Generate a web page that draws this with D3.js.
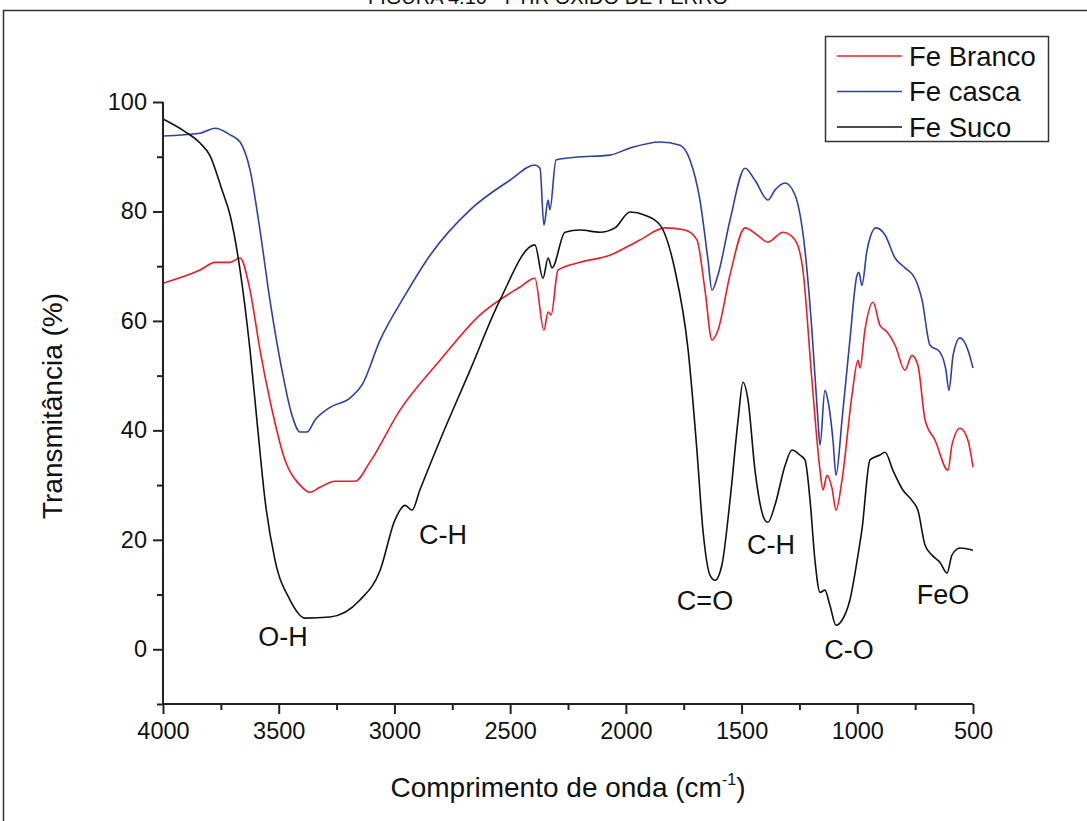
<!DOCTYPE html>
<html>
<head>
<meta charset="utf-8">
<script src="https://cdn.jsdelivr.net/npm/d3@7/dist/d3.min.js"></script>
<style>
  html, body { margin: 0; padding: 0; background: #fff; }
  svg { display: block; }
  text { font-family: "Liberation Sans", Arial, sans-serif; fill: #111; }
</style>
</head>
<body>
<svg id="chart" width="1087" height="821"></svg>
<script>
// ---------- data ----------
const seriesNames = ["Fe Branco", "Fe casca", "Fe Suco"];
const seriesColors = ["#ee1c25", "#2e40a6", "#111111"];

const brancoWn = [4000,3840,3775,3710,3667,3624,3581,3538,3473,3408,3365,3322,3257,3170,3106,2976,2803,2630,2457,2393,2354,2336,2323,2293,2198,2069,1939,1831,1745,1693,1658,1628,1602,1550,1485,1433,1386,1321,1269,1235,1196,1161,1148,1131,1109,1092,1066,1023,997,988,967,932,902,872,837,794,764,738,707,664,608,591,556,522,500];
const brancoT  = [66.9,69.3,70.7,70.7,71.5,65.6,54.7,45.5,34.6,30.0,28.7,29.6,30.7,30.7,34.2,43.7,52.8,61.1,66.2,67.8,58.3,61.6,61.1,69.3,70.7,72.0,74.8,77.0,76.6,74.8,65.6,56.5,58.3,68.4,77.0,75.7,74.4,76.2,74.8,69.3,49.2,32.7,29.1,31.8,29.4,25.4,30.9,46.4,52.8,51.4,58.3,63.4,59.2,58.0,55.6,51.0,53.7,51.9,41.9,38.2,32.7,37.3,40.4,38.2,33.3];

const cascaWn = [4000,3840,3775,3710,3667,3624,3581,3538,3486,3443,3408,3378,3343,3278,3192,3140,3062,2954,2846,2673,2501,2393,2371,2354,2336,2328,2302,2220,2069,1982,1852,1766,1723,1680,1645,1628,1602,1550,1485,1442,1386,1356,1312,1269,1226,1196,1170,1161,1140,1127,1105,1092,1066,1032,1001,993,980,958,919,880,837,794,751,720,686,643,617,604,586,556,522,500];
const cascaT  = [93.8,94.3,95.2,94.0,92.7,87.6,76.6,63.8,51.0,42.8,39.7,39.7,41.9,44.2,45.9,48.3,56.5,64.7,72.0,80.3,85.7,88.5,87.9,77.5,82.1,80.3,89.4,89.9,90.3,91.6,92.7,92.1,89.4,82.1,71.1,65.6,68.4,78.4,87.9,85.7,82.1,83.9,85.2,83.0,72.9,58.3,41.9,37.3,47.3,45.5,38.2,31.8,41.9,56.5,68.4,68.9,66.5,72.9,77.0,75.7,71.5,69.7,67.8,63.8,55.6,54.3,51.0,47.3,53.7,56.9,54.7,51.4];

const sucoWn = [4000,3905,3840,3797,3745,3710,3667,3624,3590,3559,3516,3451,3386,3278,3149,3062,2998,2954,2924,2890,2803,2673,2544,2393,2358,2336,2319,2263,2198,2112,2047,1982,1917,1852,1788,1731,1693,1667,1636,1615,1585,1550,1515,1494,1472,1442,1399,1386,1356,1312,1282,1248,1226,1204,1183,1161,1140,1118,1092,1066,1032,997,980,945,902,880,846,803,764,738,707,677,643,612,591,556,500];
const sucoT  = [96.9,94.6,92.5,90.2,83.9,79.3,69.3,54.7,40.0,27.2,16.3,9.0,5.7,5.9,9.0,14.4,23.6,26.3,25.4,29.1,38.2,51.0,63.8,73.9,67.8,71.5,69.7,76.2,76.6,76.2,77.0,79.9,79.3,77.5,69.3,54.7,36.4,21.8,13.5,12.6,15.4,27.2,41.9,48.8,45.5,32.7,23.6,23.2,26.3,33.6,36.4,35.5,34.6,27.2,16.3,10.4,10.8,8.0,4.4,5.3,9.0,17.2,21.8,34.6,35.5,36.0,32.7,29.1,27.2,25.4,19.0,17.2,15.9,13.9,17.2,18.5,18.1];

const xMajorTicks = [4000,3500,3000,2500,2000,1500,1000,500];
const xMinorTicks = [3750,3250,2750,2250,1750,1250,750];
const yMajorTicks = [0,20,40,60,80,100];
const yMinorTicks = [-10,10,30,50,70,90];

const annLabels = ["O-H","C-H","C=O","C-H","C-O","FeO"];
const annWn     = [3481,2790,1658,1373,1036,630];
const annT      = [2.2,20.8,8.8,19.0,-0.2,9.9];

const titleText = "FIGURA 4.10 - FTIR ÓXIDO DE FERRO";
const xTitle = "Comprimento de onda (cm";
const yTitle = "Transmitância (%)";

// ---------- layout ----------
const svg = d3.select("#chart");
const x = d3.scaleLinear().domain([4000, 500]).range([163, 973]);
const y = d3.scaleLinear().domain([-10, 100]).range([704, 102]);

// outer frame (cropped figure border)
svg.append("rect").attr("x", 3.5).attr("y", 10.5).attr("width", 1100).attr("height", 830)
  .attr("fill", "none").attr("stroke", "#333").attr("stroke-width", 1.5);

// cropped caption at very top (the reference shows only its lower edge)
svg.append("text").attr("x", 548).attr("y", 4).attr("text-anchor", "middle")
  .style("font-size", "20px").text(titleText);

// curves
const data = [
  brancoWn.map((w, i) => [w, brancoT[i]]),
  cascaWn.map((w, i) => [w, cascaT[i]]),
  sucoWn.map((w, i) => [w, sucoT[i]])
];
const line = d3.line().x(d => x(d[0])).y(d => y(d[1])).curve(d3.curveMonotoneX);
[0, 1, 2].forEach(i => {
  svg.append("path").datum(data[i]).attr("d", line)
    .attr("fill", "none").attr("stroke", seriesColors[i]).attr("stroke-width", 1.6)
    .attr("stroke-linejoin", "round");
});

// axes
const axisColor = "#222";
const xAxis = d3.axisBottom(x).tickValues(xMajorTicks).tickSize(10).tickPadding(8).tickFormat(d3.format("d"));
const gx = svg.append("g").attr("transform", `translate(0,${y(-10)})`).call(xAxis);
gx.select(".domain").remove();
svg.append("g").attr("transform", `translate(0,${y(-10)})`)
  .call(d3.axisBottom(x).tickValues(xMinorTicks).tickSize(6).tickFormat(""))
  .select(".domain").remove();
svg.append("line").attr("x1", x(4000)).attr("x2", x(500)).attr("y1", y(-10)).attr("y2", y(-10))
  .attr("stroke", axisColor).attr("stroke-width", 2);

const yAxis = d3.axisLeft(y).tickValues(yMajorTicks).tickSize(10).tickPadding(6);
const gy = svg.append("g").attr("transform", `translate(${x(4000)},0)`).call(yAxis);
gy.select(".domain").remove();
svg.append("g").attr("transform", `translate(${x(4000)},0)`)
  .call(d3.axisLeft(y).tickValues(yMinorTicks).tickSize(6).tickFormat(""))
  .select(".domain").remove();
svg.append("line").attr("x1", x(4000)).attr("x2", x(4000)).attr("y1", y(100)).attr("y2", y(-10))
  .attr("stroke", axisColor).attr("stroke-width", 2);

svg.selectAll(".tick line").attr("stroke", axisColor).attr("stroke-width", 2);
svg.selectAll(".tick text").style("font-size", "23.5px").style("font-family", "\"Liberation Sans\", Arial, sans-serif").attr("fill", "#111");

// axis titles
const xt = svg.append("text").attr("x", 568).attr("y", 797).attr("text-anchor", "middle")
  .style("font-size", "28px");
xt.append("tspan").text(xTitle);
xt.append("tspan").attr("dy", -12).style("font-size", "16px").text("-1");
xt.append("tspan").attr("dy", 12).text(")");

svg.append("text").attr("transform", "translate(62,406) rotate(-90)").attr("text-anchor", "middle")
  .style("font-size", "28px").text(yTitle);

// annotations
annLabels.forEach((t, i) => {
  svg.append("text").attr("x", x(annWn[i])).attr("y", y(annT[i])).attr("text-anchor", "middle")
    .attr("dominant-baseline", "central").style("font-size", "27px").text(t);
});

// legend
const lg = svg.append("g");
lg.append("rect").attr("x", 825.5).attr("y", 36.5).attr("width", 223).attr("height", 105)
  .attr("fill", "#fff").attr("stroke", "#333").attr("stroke-width", 1.5);
seriesNames.forEach((n, i) => {
  const yy = 56 + i * 35.5;
  lg.append("line").attr("x1", 837).attr("x2", 902).attr("y1", yy).attr("y2", yy)
    .attr("stroke", seriesColors[i]).attr("stroke-width", 1.6);
  lg.append("text").attr("x", 909).attr("y", yy).attr("dominant-baseline", "central")
    .style("font-size", "27.5px").text(n);
});
</script>
</body>
</html>
